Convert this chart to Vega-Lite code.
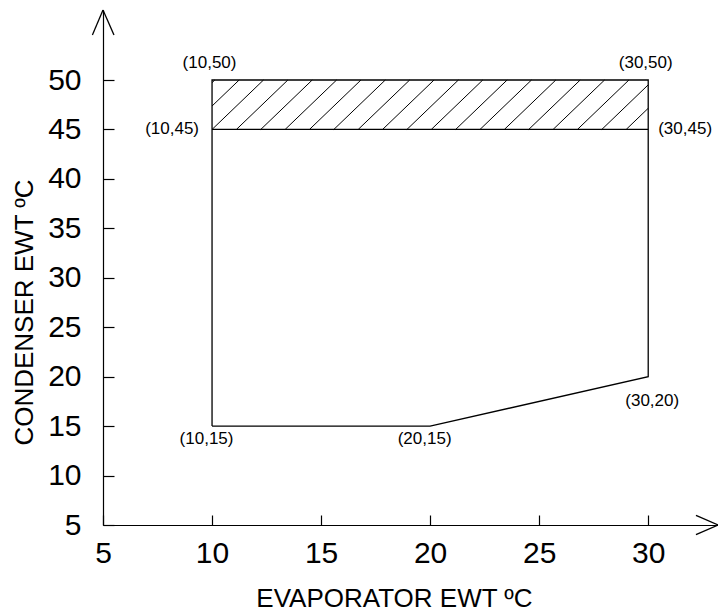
{
  "$schema": "https://vega.github.io/schema/vega-lite/v6.json",
  "width": 615,
  "height": 515,
  "autosize": {"type": "none"},
  "padding": {"left": 103, "top": 10, "right": 0, "bottom": 86},
  "background": "white",
  "config": {"view": {"stroke": null}, "font": "Liberation Sans"},
  "datasets": {
    "outline": [
      {"x": 10, "y": 15, "o": 1},
      {"x": 10, "y": 50, "o": 2},
      {"x": 30, "y": 50, "o": 3},
      {"x": 30, "y": 20, "o": 4},
      {"x": 20, "y": 15, "o": 5},
      {"x": 10, "y": 15, "o": 6}
    ],
    "segments": [
      {"x": 10, "y": 45, "x2": 30, "y2": 45, "kind": "edge"},
      {"x": 10, "y": 49.73, "x2": 10.126, "y2": 50, "kind": "hatch"},
      {"x": 10, "y": 47.37, "x2": 11.243, "y2": 50, "kind": "hatch"},
      {"x": 10, "y": 45, "x2": 12.36, "y2": 50, "kind": "hatch"},
      {"x": 11.117, "y": 45, "x2": 13.477, "y2": 50, "kind": "hatch"},
      {"x": 12.234, "y": 45, "x2": 14.594, "y2": 50, "kind": "hatch"},
      {"x": 13.351, "y": 45, "x2": 15.711, "y2": 50, "kind": "hatch"},
      {"x": 14.468, "y": 45, "x2": 16.828, "y2": 50, "kind": "hatch"},
      {"x": 15.585, "y": 45, "x2": 17.945, "y2": 50, "kind": "hatch"},
      {"x": 16.702, "y": 45, "x2": 19.062, "y2": 50, "kind": "hatch"},
      {"x": 17.819, "y": 45, "x2": 20.179, "y2": 50, "kind": "hatch"},
      {"x": 18.936, "y": 45, "x2": 21.296, "y2": 50, "kind": "hatch"},
      {"x": 20.053, "y": 45, "x2": 22.413, "y2": 50, "kind": "hatch"},
      {"x": 21.17, "y": 45, "x2": 23.53, "y2": 50, "kind": "hatch"},
      {"x": 22.287, "y": 45, "x2": 24.647, "y2": 50, "kind": "hatch"},
      {"x": 23.404, "y": 45, "x2": 25.764, "y2": 50, "kind": "hatch"},
      {"x": 24.521, "y": 45, "x2": 26.881, "y2": 50, "kind": "hatch"},
      {"x": 25.638, "y": 45, "x2": 27.998, "y2": 50, "kind": "hatch"},
      {"x": 26.755, "y": 45, "x2": 29.115, "y2": 50, "kind": "hatch"},
      {"x": 27.872, "y": 45, "x2": 30, "y2": 49.51, "kind": "hatch"},
      {"x": 28.989, "y": 45, "x2": 30, "y2": 47.14, "kind": "hatch"},
      {"x": 32.19, "y": 5.98, "x2": 33.2, "y2": 5, "kind": "arrow"},
      {"x": 32.19, "y": 4.02, "x2": 33.2, "y2": 5, "kind": "arrow"},
      {"x": 4.514, "y": 54.55, "x2": 5, "y2": 57.08, "kind": "arrow"},
      {"x": 5.504, "y": 54.55, "x2": 5, "y2": 57.08, "kind": "arrow"}
    ],
    "labels": [
      {"x": 10, "y": 50, "label": "(10,50)", "pos": "above"},
      {"x": 30, "y": 50, "label": "(30,50)", "pos": "above"},
      {"x": 10, "y": 45, "label": "(10,45)", "pos": "left"},
      {"x": 30, "y": 45, "label": "(30,45)", "pos": "right"},
      {"x": 10, "y": 15, "label": "(10,15)", "pos": "below"},
      {"x": 20, "y": 15, "label": "(20,15)", "pos": "below"},
      {"x": 30, "y": 20, "label": "(30,20)", "pos": "belowright"}
    ]
  },
  "layer": [
    {
      "data": {"name": "segments"},
      "transform": [{"filter": "datum.kind === 'hatch'"}],
      "mark": {"type": "rule", "color": "#000", "strokeWidth": 1},
      "encoding": {
        "x": {
          "field": "x", "type": "quantitative",
          "scale": {"domain": [5, 33.2], "nice": false, "zero": false},
          "axis": {
            "values": [5, 10, 15, 20, 25, 30],
            "grid": false,
            "domainColor": "#000", "domainWidth": 1.2,
            "tickColor": "#000", "tickWidth": 1.2, "tickSize": -10,
            "labelFont": "Liberation Sans", "labelFontSize": 30, "labelColor": "#000",
            "labelBaseline": "alphabetic", "labelPadding": 47,
            "labelFlush": false, "labelOverlap": false,
            "title": "EVAPORATOR EWT ºC",
            "titleFont": "Liberation Sans", "titleFontSize": 26, "titleFontWeight": "normal",
            "titleColor": "#000", "titleX": 291, "titleY": 81, "titleBaseline": "alphabetic", "titleAlign": "center"
          }
        },
        "y": {
          "field": "y", "type": "quantitative",
          "scale": {"domain": [5, 57.08], "nice": false, "zero": false},
          "axis": {
            "values": [5, 10, 15, 20, 25, 30, 35, 40, 45, 50],
            "grid": false,
            "domainColor": "#000", "domainWidth": 1.2,
            "tickColor": "#000", "tickWidth": 1.2, "tickSize": -11,
            "labelFont": "Liberation Sans", "labelFontSize": 30, "labelColor": "#000",
            "labelAlign": "right", "labelBaseline": "middle", "labelPadding": 33,
            "labelFlush": false, "labelOverlap": false,
            "title": "CONDENSER EWT ºC",
            "titleFont": "Liberation Sans", "titleFontSize": 26, "titleFontWeight": "normal",
            "titleColor": "#000", "titleX": -71, "titleY": 302, "titleBaseline": "alphabetic", "titleAlign": "center", "titleAngle": -90
          }
        },
        "x2": {"field": "x2"},
        "y2": {"field": "y2"}
      }
    },
    {
      "data": {"name": "segments"},
      "transform": [{"filter": "datum.kind !== 'hatch'"}],
      "mark": {"type": "rule", "color": "#000", "strokeWidth": 1.3},
      "encoding": {
        "x": {"field": "x", "type": "quantitative"},
        "y": {"field": "y", "type": "quantitative"},
        "x2": {"field": "x2"},
        "y2": {"field": "y2"}
      }
    },
    {
      "data": {"name": "outline"},
      "mark": {"type": "line", "color": "#000", "strokeWidth": 1.3},
      "encoding": {
        "x": {"field": "x", "type": "quantitative"},
        "y": {"field": "y", "type": "quantitative"},
        "order": {"field": "o", "type": "quantitative"}
      }
    },
    {
      "data": {"name": "labels"},
      "transform": [{"filter": "datum.pos === 'above'"}],
      "mark": {"type": "text", "font": "Liberation Sans", "fontSize": 17, "color": "#000", "align": "center", "baseline": "middle", "dx": -2.5, "dy": -17},
      "encoding": {
        "x": {"field": "x", "type": "quantitative"},
        "y": {"field": "y", "type": "quantitative"},
        "text": {"field": "label"}
      }
    },
    {
      "data": {"name": "labels"},
      "transform": [{"filter": "datum.pos === 'left'"}],
      "mark": {"type": "text", "font": "Liberation Sans", "fontSize": 17, "color": "#000", "align": "right", "baseline": "middle", "dx": -13, "dy": 0},
      "encoding": {
        "x": {"field": "x", "type": "quantitative"},
        "y": {"field": "y", "type": "quantitative"},
        "text": {"field": "label"}
      }
    },
    {
      "data": {"name": "labels"},
      "transform": [{"filter": "datum.pos === 'right'"}],
      "mark": {"type": "text", "font": "Liberation Sans", "fontSize": 17, "color": "#000", "align": "left", "baseline": "middle", "dx": 10, "dy": 0},
      "encoding": {
        "x": {"field": "x", "type": "quantitative"},
        "y": {"field": "y", "type": "quantitative"},
        "text": {"field": "label"}
      }
    },
    {
      "data": {"name": "labels"},
      "transform": [{"filter": "datum.pos === 'below'"}],
      "mark": {"type": "text", "font": "Liberation Sans", "fontSize": 17, "color": "#000", "align": "center", "baseline": "middle", "dx": -5.5, "dy": 12.5},
      "encoding": {
        "x": {"field": "x", "type": "quantitative"},
        "y": {"field": "y", "type": "quantitative"},
        "text": {"field": "label"}
      }
    },
    {
      "data": {"name": "labels"},
      "transform": [{"filter": "datum.pos === 'belowright'"}],
      "mark": {"type": "text", "font": "Liberation Sans", "fontSize": 17, "color": "#000", "align": "center", "baseline": "middle", "dx": 4, "dy": 24},
      "encoding": {
        "x": {"field": "x", "type": "quantitative"},
        "y": {"field": "y", "type": "quantitative"},
        "text": {"field": "label"}
      }
    }
  ]
}
